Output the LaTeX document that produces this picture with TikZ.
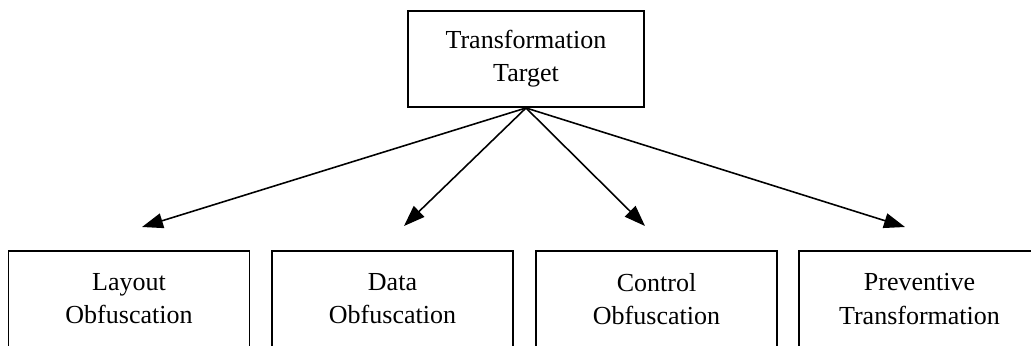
\documentclass[tikz,border=0pt]{standalone}
\usepackage{fontspec}
\setmainfont{Liberation Serif}
\usetikzlibrary{arrows.meta}

\begin{document}
\begin{tikzpicture}[x=0.02cm, y=-0.02cm,
    box/.style={draw, line width=1.1pt, minimum width=4.82cm, minimum height=1.92cm,
                align=center, font=\fontsize{14.8}{18.8}\selectfont},
    link/.style={line width=0.9pt, -{Triangle[length=0.42cm, width=0.3cm]}}]
    \clip (0, 0) rectangle (1031, 345);  % picture is cut at the bottom and right

    % Top box
    \node[box, minimum width=4.72cm] (target) at (526, 59) {Transformation\\Target};

    % Bottom row of boxes
    \node[box] (layout)  at (129, 299)   {Layout\\Obfuscation};
    \node[box] (data)    at (392.5, 299) {Data\\Obfuscation};
    \node[box] (control) at (656.5, 299) {Control\\Obfuscation};
    \node[box] (prevent) at (919.5, 299) {Preventive\\Transformation};

    % Arrow tips (arrows stop short of the boxes)
    \coordinate (tipLayout)  at (142, 227);
    \coordinate (tipData)    at (404, 226);
    \coordinate (tipControl) at (645, 226);
    \coordinate (tipPrevent) at (905, 227);

    % Arrows
    \draw[link] (target.south) -- (tipLayout);
    \draw[link] (target.south) -- (tipData);
    \draw[link] (target.south) -- (tipControl);
    \draw[link] (target.south) -- (tipPrevent);
\end{tikzpicture}
\end{document}
